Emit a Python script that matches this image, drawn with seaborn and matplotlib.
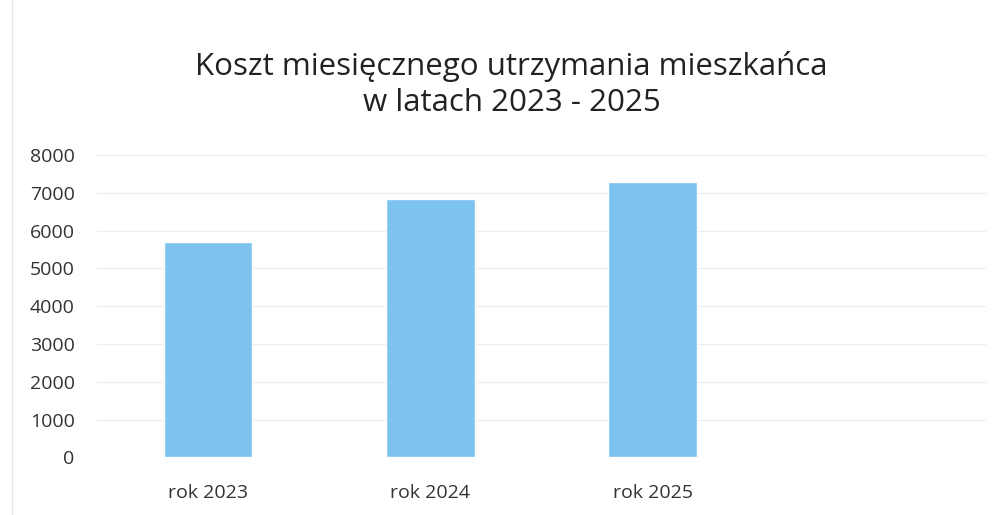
import matplotlib
matplotlib.use("Agg")
import matplotlib.pyplot as plt
import seaborn as sns
import pandas as pd

categories = ["rok 2023", "rok 2024", "rok 2025"]
values = [5700, 6830, 7290]
yticks = [0, 1000, 2000, 3000, 4000, 5000, 6000, 7000, 8000]
title = "Koszt miesięcznego utrzymania mieszkańca\nw latach 2023 - 2025"

sns.set_theme(style="white")
plt.rcParams["font.family"] = ["Open Sans", "DejaVu Sans"]

df = pd.DataFrame({"kat": categories, "val": values})

fig = plt.figure(figsize=(9.99, 5.15), dpi=100)
ax = fig.add_axes([0.097, 0.112, 0.89, 0.587])
sns.barplot(data=df, x="kat", y="val", color="#7cc3ef", saturation=1, width=0.4, ax=ax)
ax.set_xlim(-0.5, 3.5)
ax.set_ylim(0, 8000)
ax.set_yticks(yticks)
ax.set_yticklabels([str(t) for t in yticks], fontsize=14, color="#333333")
ax.set_xticks(range(len(categories)))
ax.set_xticklabels(categories, fontsize=14, color="#333333")
ax.tick_params(axis="x", pad=19, length=0)
ax.tick_params(axis="y", pad=16, length=0)
ax.yaxis.grid(True, color="#ececec", linewidth=0.8)
ax.set_axisbelow(True)
for s in ax.spines.values():
    s.set_visible(False)
ax.set_xlabel("")
ax.set_ylabel("")
fig.text(0.512, 0.77, title, ha="center", va="bottom", fontsize=22.5, color="#222222", linespacing=1.3)
fig.add_artist(plt.Line2D([0.012, 0.012], [0.0, 1.0], color="#e6e6e6", linewidth=1))
fig.savefig("out.png", dpi=100)
